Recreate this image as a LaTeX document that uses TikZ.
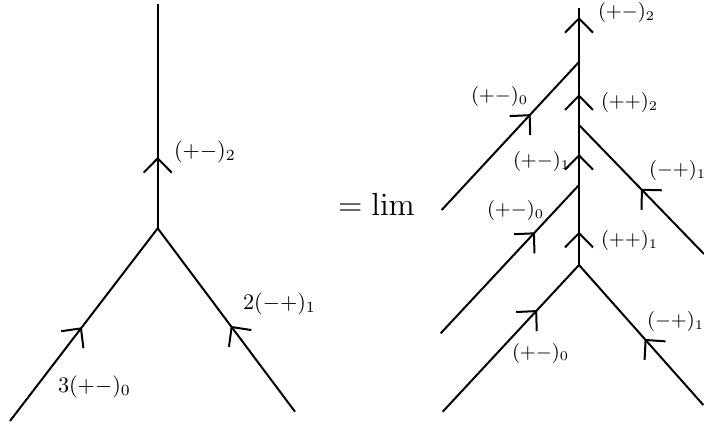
\documentclass[tikz,border=0pt]{standalone}
\usetikzlibrary{arrows.meta,decorations.markings}
\tikzset{
    flow/.style={postaction={decorate,decoration={markings,
        mark=at position #1 with {\arrow{Straight Barb[length=6.4pt,width=12.6pt]}}}}},
    lbl/.style={anchor=west,inner sep=0pt}
}
\begin{document}
\begin{tikzpicture}[x=0.45pt,y=-0.45pt,line width=0.9pt]
    \useasboundingbox (0,0) rectangle (704,425);
    % left vertex
    \coordinate (a) at (157.7,228.3);
    \coordinate (atop) at (157.7,4);
    \coordinate (al) at (10,421);
    \coordinate (ar) at (295,411.7);
    \draw[flow=0.318] (a) -- (atop);
    \draw[flow=0.487] (al) -- (a);
    \draw[flow=0.468] (ar) -- (a);
    \node[lbl] (la) at (173,152) {$(+-)_2$};
    \node[lbl] (lb) at (57,387) {$3(+-)_0$};
    \node[lbl] (lc) at (242,304) {$2(-+)_1$};

    \node[font=\Large] (eq) at (376.5,204) {$=\lim$};

    % right tree: trunk and branches
    \coordinate (t) at (579,8);
    \coordinate (j1) at (579,62);
    \coordinate (j2) at (579,125);
    \coordinate (j3) at (579,185);
    \coordinate (v) at (579,265);
    \coordinate (l1) at (441.7,210);
    \coordinate (r1) at (704,254);
    \coordinate (l2) at (440.7,333.3);
    \coordinate (bl) at (442.7,411.7);
    \coordinate (br) at (703.3,405);
    \foreach \s/\e/\p in {v/j3/0.416, j3/j2/0.517, j2/j1/0.487, j1/t/0.833,
                          l1/j1/0.648, r1/j2/0.506, l2/j3/0.683,
                          bl/v/0.694, br/v/0.473}
        \draw[flow=\p] (\s) -- (\e);

    \foreach \n/\x/\y/\t in {r0/597/13/{(+-)_2}, r1/470/97/{(+-)_0}, r2/600/103/{(++)_2},
                             r3/512/162/{(+-)_1}, r4/648/171/{(-+)_1}, r5/486/211/{(+-)_0},
                             r6/600/241/{(++)_1}, r7/646/322/{(-+)_1}, r8/511/353/{(+-)_0}}
        \node[lbl,font=\small] (n\n) at (\x,\y) {$\t$};
\end{tikzpicture}
\end{document}
